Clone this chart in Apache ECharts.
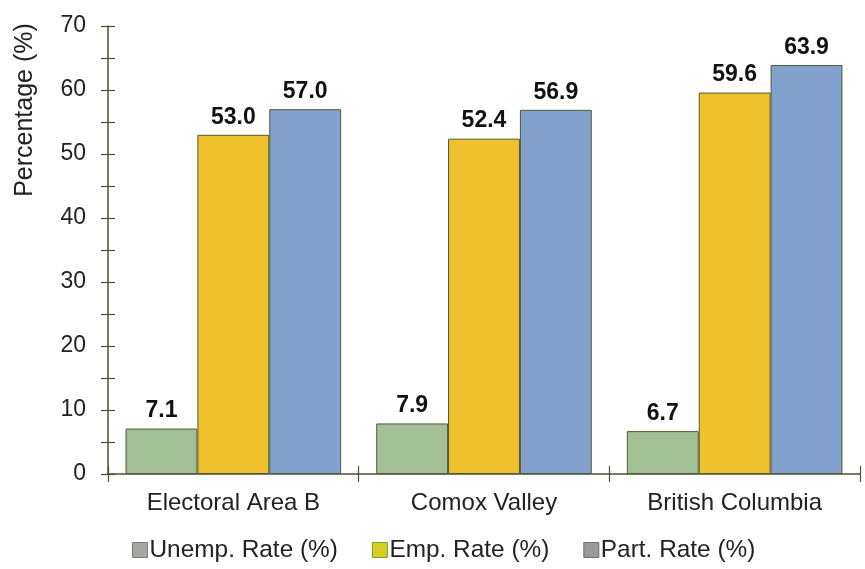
<!DOCTYPE html>
<html>
<head>
<meta charset="utf-8">
<script src="https://cdn.jsdelivr.net/npm/echarts@6/dist/echarts.min.js"></script>
<style>
  html, body { margin: 0; padding: 0; background: #ffffff; }
  #chart { width: 865px; height: 569px; }
</style>
</head>
<body>
<div id="chart"></div>
<script>
// Labour force rates by area
const categories = ['Electoral Area B', 'Comox Valley', 'British Columbia'];
const unempRate = [7.1, 7.9, 6.7];
const empRate = [53.0, 52.4, 59.6];
const partRate = [57.0, 56.9, 63.9];
const seriesNames = ['Unemp. Rate (%)', 'Emp. Rate (%)', 'Part. Rate (%)'];
const yTicks = { min: 0, max: 70, interval: 10 };

const FONT = '"Liberation Sans", Arial, sans-serif';
const AXIS_COLOR = '#4a5230';
const BORDER = '#4f5b34';

const chart = echarts.init(document.getElementById('chart'), null, { renderer: 'canvas' });

function barSeries(name, data, color) {
  return {
    name: name,
    type: 'bar',
    data: data,
    barGap: '0%',
    barCategoryGap: '14%',
    itemStyle: { color: color, borderColor: BORDER, borderWidth: 1 },
    label: {
      show: true,
      position: 'top',
      distance: 6,
      fontFamily: FONT,
      fontSize: 23,
      fontWeight: 'bold',
      color: '#111',
      formatter: p => p.value.toFixed(1)
    }
  };
}

const tickLine = { color: AXIS_COLOR, width: 1.2 };

chart.setOption({
  animation: false,
  backgroundColor: '#ffffff',
  grid: { left: 108, right: 5, top: 26, bottom: 95 },
  legend: {
    top: 533,
    left: 127,
    itemWidth: 15,
    itemHeight: 15,
    itemGap: 34,
    icon: 'rect',
    textStyle: { fontFamily: FONT, fontSize: 24.4, color: '#222', padding: [0, 0, 0, -3] },
    data: [
      { name: seriesNames[0], itemStyle: { color: '#a4a8a0', borderColor: '#7a7a7a', borderWidth: 1 } },
      { name: seriesNames[1], itemStyle: { color: '#d8d020', borderColor: '#7c9a3a', borderWidth: 1 } },
      { name: seriesNames[2], itemStyle: { color: '#9a9a9a', borderColor: '#6e6e6e', borderWidth: 1 } }
    ]
  },
  xAxis: [
    {
      type: 'category',
      data: categories,
      position: 'bottom',
      axisLine: { show: true, lineStyle: { color: AXIS_COLOR, width: 1.5 } },
      axisTick: { show: true, length: 8, lineStyle: tickLine },
      axisLabel: { margin: 17, fontFamily: FONT, fontSize: 24, color: '#222' }
    },
    {
      type: 'category',
      data: categories,
      position: 'bottom',
      axisLine: { show: false },
      axisTick: { show: true, inside: true, length: 8, lineStyle: tickLine },
      axisLabel: { show: false }
    }
  ],
  yAxis: [
    {
      type: 'value',
      min: yTicks.min,
      max: yTicks.max,
      interval: yTicks.interval,
      axisLine: { show: true, lineStyle: { color: AXIS_COLOR, width: 1.5 } },
      axisTick: { show: true, length: 7, lineStyle: tickLine },
      minorTick: { show: true, splitNumber: 2, length: 7, lineStyle: tickLine },
      splitLine: { show: false },
      axisLabel: { margin: 22, fontFamily: FONT, fontSize: 23, color: '#222' }
    },
    {
      type: 'value',
      min: yTicks.min,
      max: yTicks.max,
      interval: yTicks.interval,
      position: 'left',
      axisLine: { show: false },
      axisTick: { show: true, inside: true, length: 7, lineStyle: tickLine },
      minorTick: { show: true, splitNumber: 2, length: 7, lineStyle: tickLine },
      splitLine: { show: false },
      axisLabel: { show: false }
    }
  ],
  graphic: [
    {
      type: 'text',
      x: 25,
      y: 110,
      rotation: Math.PI / 2,
      style: {
        text: 'Percentage (%)',
        fontFamily: FONT,
        fontSize: 25,
        fill: '#222',
        align: 'center',
        verticalAlign: 'middle'
      }
    }
  ],
  series: [
    barSeries(seriesNames[0], unempRate, '#a3bf96'),
    barSeries(seriesNames[1], empRate, '#efc12c'),
    barSeries(seriesNames[2], partRate, '#82a1cc')
  ]
});
</script>
</body>
</html>
